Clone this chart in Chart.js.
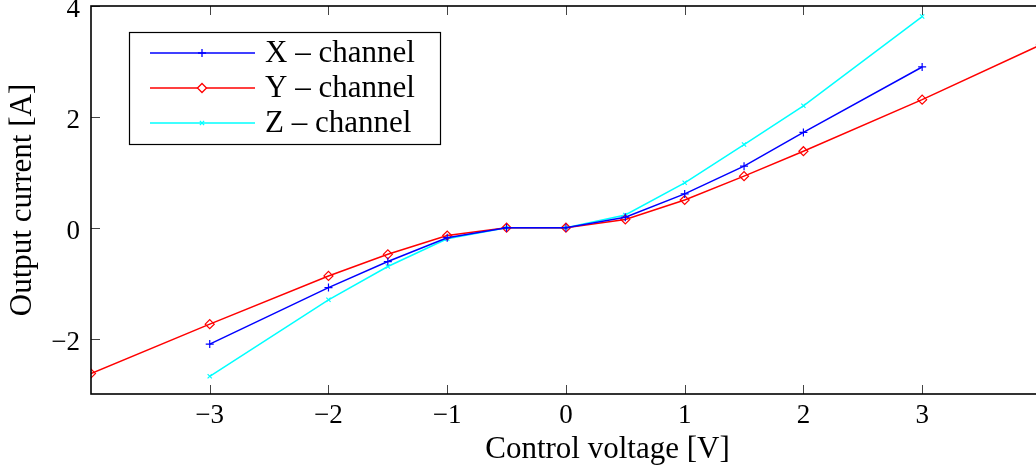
<!DOCTYPE html>
<html>
<head>
<meta charset="utf-8">
<script src="https://cdn.jsdelivr.net/npm/chart.js@4/dist/chart.umd.min.js"></script>
<style>
    html, body { margin: 0; padding: 0; background: #fff; overflow: hidden; }
    #wrap { width: 1130px; height: 472px; }
</style>
</head>
<body>
<div id="wrap"><canvas id="ivChart" width="1130" height="472"></canvas></div>
<script>
// control voltage samples
const voltsXZ = [-3, -2, -1.5, -1, -0.5, 0, 0.5, 1, 1.5, 2, 3];
const voltsY = [-4, -3, -2, -1.5, -1, -0.5, 0, 0.5, 1, 1.5, 2, 3, 4];

// output current per channel
const currentX = [-2.1, -1.08, -0.61, -0.18, 0, 0, 0.19, 0.61, 1.11, 1.72, 2.9];
const currentY = [-2.63, -1.74, -0.87, -0.48, -0.14, 0, 0, 0.15, 0.5, 0.93, 1.38, 2.31, 3.3];
const currentZ = [-2.68, -1.3, -0.7, -0.2, 0, 0, 0.23, 0.81, 1.5, 2.2, 3.81];

const xTicks = [-3, -2, -1, 0, 1, 2, 3];
const yTicks = [-2, 0, 2, 4];

const FONT = "'Liberation Serif', 'DejaVu Serif', serif";

function toPoints(xs, ys) {
    return xs.map((x, i) => ({x: x, y: ys[i]}));
}

// frame, inward tick marks and the boxed legend
const framePlugin = {
    id: 'frame',
    afterDatasetsDraw(chart) {
        const ctx = chart.ctx;
        const a = chart.chartArea;
        const xs = chart.scales.x;
        const ys = chart.scales.y;
        ctx.save();

        ctx.strokeStyle = '#444';
        ctx.lineWidth = 1;
        ctx.beginPath();
        xTicks.forEach(v => {
            const px = Math.round(xs.getPixelForValue(v)) + 0.5;
            ctx.moveTo(px, a.bottom); ctx.lineTo(px, a.bottom - 9);
            ctx.moveTo(px, a.top); ctx.lineTo(px, a.top + 9);
        });
        yTicks.forEach(v => {
            const py = Math.round(ys.getPixelForValue(v)) + 0.5;
            ctx.moveTo(a.left, py); ctx.lineTo(a.left + 9, py);
            ctx.moveTo(a.right, py); ctx.lineTo(a.right - 9, py);
        });
        ctx.stroke();

        ctx.strokeStyle = '#000';
        ctx.lineWidth = 1.6;
        ctx.strokeRect(a.left, a.top, a.right - a.left, a.bottom - a.top);

        // legend
        const box = {x: 129, y: 32, w: 311, h: 112};
        ctx.fillStyle = '#fff';
        ctx.fillRect(box.x, box.y, box.w, box.h);
        ctx.lineWidth = 1.2;
        ctx.strokeStyle = '#000';
        ctx.strokeRect(box.x + 0.5, box.y + 0.5, box.w, box.h);

        chart.data.datasets.forEach((ds, i) => {
            const ly = box.y + 21 + i * 35;
            ctx.strokeStyle = ds.borderColor;
            ctx.lineWidth = 1.5;
            ctx.beginPath();
            ctx.moveTo(150, ly); ctx.lineTo(255, ly);
            ctx.stroke();
            ctx.fillStyle = '#fff';
            ctx.lineWidth = 1.3;
            Chart.helpers.drawPoint(ctx, {
                pointStyle: ds.pointStyle,
                radius: ds.pointRadius,
                borderWidth: 1.3,
                rotation: 0
            }, 202, ly);
            ctx.fillStyle = '#000';
            ctx.font = '31px ' + FONT;
            ctx.textAlign = 'left';
            ctx.textBaseline = 'middle';
            ctx.fillText(ds.label, 265, ly + 1);
        });
        ctx.restore();
    }
};

function series(label, xs, ys, color, style, radius) {
    return {
        label: label,
        data: toPoints(xs, ys),
        borderColor: color,
        backgroundColor: '#fff',
        borderWidth: 1.5,
        pointStyle: style,
        pointRadius: radius,
        pointBorderWidth: 1.2,
        pointBorderColor: color,
        pointBackgroundColor: 'rgba(0,0,0,0)',
        tension: 0,
        fill: false
    };
}

new Chart(document.getElementById('ivChart').getContext('2d'), {
    type: 'line',
    data: {
        datasets: [
            series('X – channel', voltsXZ, currentX, '#0000ff', 'cross', 4),
            series('Y – channel', voltsY, currentY, '#ff0000', 'rectRot', 4.5),
            series('Z – channel', voltsXZ, currentZ, '#00ffff', 'crossRot', 3)
        ]
    },
    options: {
        responsive: false,
        animation: false,
        devicePixelRatio: 1,
        layout: {padding: {top: 6, right: 6, left: 0, bottom: 0}},
        plugins: {
            legend: {display: false},
            tooltip: {enabled: false}
        },
        scales: {
            x: {
                type: 'linear',
                min: -4,
                max: 4.7,
                afterBuildTicks: s => { s.ticks = xTicks.map(v => ({value: v})); },
                afterFit: s => { s.height = 78; s.paddingLeft = 0; s.paddingRight = 0; },
                grid: {display: false, drawTicks: false},
                border: {display: false},
                ticks: {
                    padding: 6,
                    color: '#000',
                    font: {family: FONT, size: 27},
                    callback: v => (v < 0 ? '\u2212' + Math.abs(v) : String(v))
                },
                title: {
                    display: true,
                    text: 'Control voltage [V]',
                    color: '#000',
                    font: {family: FONT, size: 31},
                    padding: {top: 0, bottom: 4}
                }
            },
            y: {
                type: 'linear',
                min: -3,
                max: 4,
                afterBuildTicks: s => { s.ticks = yTicks.map(v => ({value: v})); },
                afterFit: s => { s.width = 91; s.paddingTop = 0; s.paddingBottom = 0; },
                grid: {display: false, drawTicks: false},
                border: {display: false},
                ticks: {
                    padding: 11,
                    labelOffset: 4,
                    color: '#000',
                    font: {family: FONT, size: 27},
                    callback: v => (v < 0 ? '\u2212' + Math.abs(v) : String(v))
                },
                title: {
                    display: true,
                    text: 'Output current [A]',
                    color: '#000',
                    font: {family: FONT, size: 31},
                    padding: {top: 4, bottom: 0}
                }
            }
        }
    },
    plugins: [framePlugin]
});
</script>
</body>
</html>
